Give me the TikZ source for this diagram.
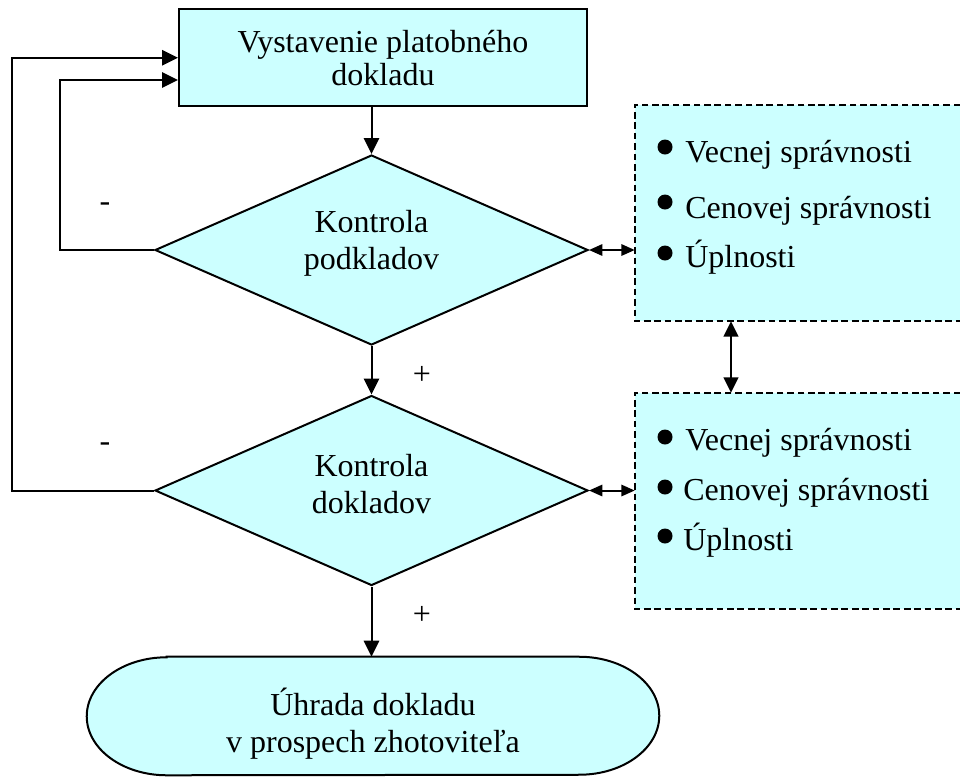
\documentclass[tikz,border=0pt]{standalone}
\usepackage{fontspec}
\setmainfont{Liberation Serif}
\usetikzlibrary{arrows.meta,shapes.geometric,backgrounds}
\definecolor{boxfill}{RGB}{204,255,255}
\begin{document}
\begin{tikzpicture}[x=0.75pt,y=-0.75pt,
  every node/.style={inner sep=0pt, font=\fontsize{24}{27}\selectfont},
  line/.style={line width=1.5pt},
  arr/.style={line, -{Triangle[length=12pt,width=11.5pt]}},
  darr/.style={line, {Triangle[length=10pt,width=8.5pt]}-{Triangle[length=10pt,width=8.5pt]}},
  vdarr/.style={line, {Triangle[length=11.5pt,width=11pt]}-{Triangle[length=11.5pt,width=11pt]}},
  procbox/.style={draw, line, fill=boxfill, minimum width=306pt, minimum height=72.4pt,
    align=center, font=\fontsize{24}{24.75}\selectfont},
  decision/.style={diamond, draw, line, fill=boxfill, aspect=2.28,
    minimum width=324.75pt, minimum height=142.5pt,
    align=center, font=\fontsize{24}{27.75}\selectfont},
  terminal/.style={minimum width=429pt, minimum height=88.5pt,
    align=center, font=\fontsize{24}{27.75}\selectfont},
  critbox/.style={fill=boxfill, minimum width=243.75pt, minimum height=162pt},
  critedge/.style={line width=1.2pt, dash pattern=on 5pt off 2.8pt},
  itemtext/.style={anchor=base west},
  sign/.style={font=\fontsize{24}{26}\selectfont}
]
\useasboundingbox (0,0) rectangle (960,776);

% main flow (struts balance the text block inside each shape)
\node[procbox] (issue) at (383,57.75) {Vystavenie platobného\\dokladu};
\node[decision] (chk1) at (371.5,250) {Kontrola\\podkladov\rule[-15pt]{0pt}{15pt}};
\node[decision] (chk2) at (371.5,490.5) {Kontrola\\dokladov\rule[-10.5pt]{0pt}{10.5pt}};
\node[terminal] (pay) at (373,716) {\rule{0pt}{32pt}Úhrada dokladu\\v prospech zhotoviteľa};
\begin{scope}[on background layer]
  \path[draw, line, fill=boxfill]
    ([xshift=60pt]pay.north west) -- ([xshift=-60pt]pay.north east)
    arc[start angle=90, end angle=-90, x radius=60pt, y radius=44.25pt]
    -- ([xshift=60pt]pay.south west)
    arc[start angle=270, end angle=90, x radius=60pt, y radius=44.25pt]
    -- cycle;
\end{scope}

% criteria panels, open on the right
\node[critbox] (crit1) at (797.5,213) {};
\node[critbox] (crit2) at (797.5,501) {};
\draw[critedge] (crit1.north east) -- (crit1.north west) -- (crit1.south west) -- (crit1.south east);
\draw[critedge] (crit2.north east) -- (crit2.north west) -- (crit2.south west) -- (crit2.south east);

\node[itemtext] (c1a) at (685,162) {Vecnej správnosti};
\node[itemtext] (c1b) at (685,218) {Cenovej správnosti};
\node[itemtext] (c1c) at (685,267) {Úplnosti};
\node[itemtext] (c2a) at (685,450) {Vecnej správnosti};
\node[itemtext] (c2b) at (683,500) {Cenovej správnosti};
\node[itemtext] (c2c) at (683,550) {Úplnosti};
\fill (665,147) circle[radius=7.5];
\fill (665,202) circle[radius=7.5];
\fill (665,253) circle[radius=7.5];
\fill (665,437) circle[radius=7.5];
\fill (665,487) circle[radius=7.5];
\fill (665,536) circle[radius=7.5];

% connectors
\coordinate (ret1) at (59.5,80);
\coordinate (ret2) at (12,57.75);
\coordinate (link) at (731,0);
\draw[arr] (chk1.north |- issue.south) -- (chk1.north);
\draw[arr] (chk1.south) -- (chk2.north);
\draw[arr] (chk2.south) -- (chk2.south |- pay.north);
\draw[arr] (chk1.west) -| (ret1) -- (ret1 -| issue.west);
\draw[arr] (chk2.west) -| (ret2) -- (ret2 -| issue.west);
\draw[darr] (chk1.east) -- (chk1.east -| crit1.west);
\draw[darr] (chk2.east) -- (chk2.east -| crit2.west);
\draw[vdarr] (crit1.south -| link) -- (crit2.north -| link);

% branch signs
\node[sign] (no1) at (105,207) {-};
\node[sign] (no2) at (105,447) {-};
\node[sign] (yes1) at (422,375) {+};
\node[sign] (yes2) at (422,615) {+};
\end{tikzpicture}
\end{document}
